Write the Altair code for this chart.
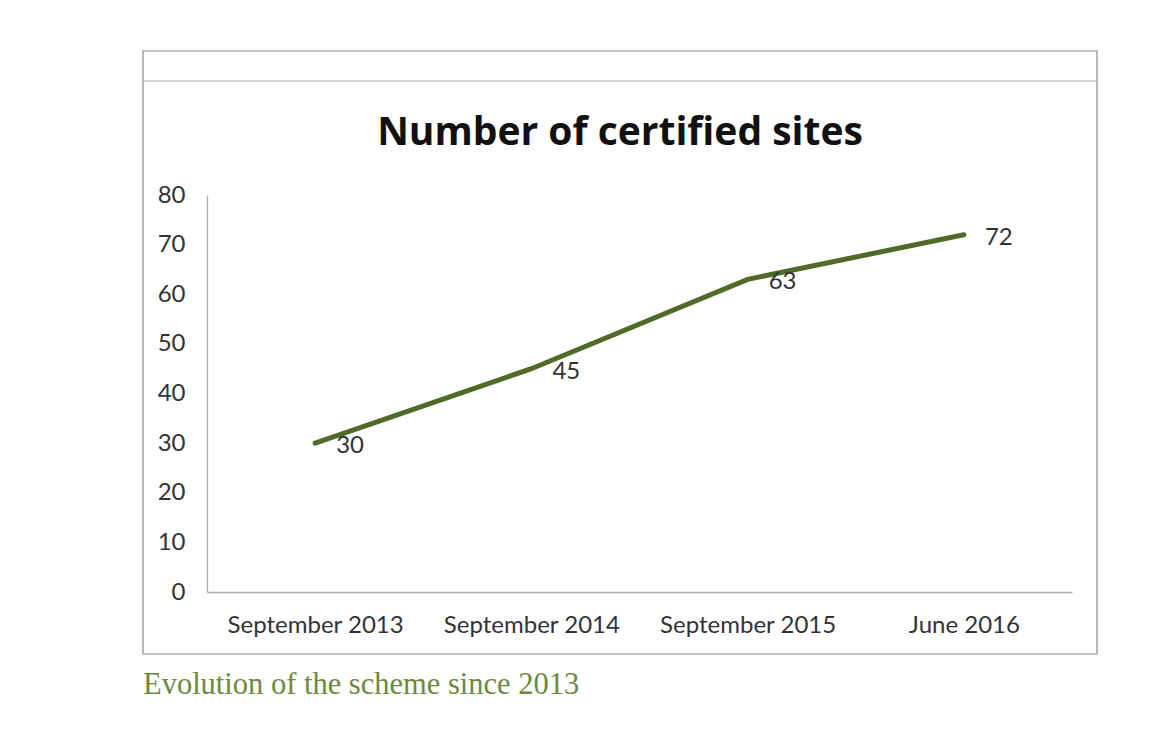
import altair as alt
import pandas as pd

periods = ["September 2013", "September 2014", "September 2015", "June 2016"]
sites = [30, 45, 63, 72]
y_ticks = [0, 10, 20, 30, 40, 50, 60, 70, 80]
title_text = "Number of certified sites"
caption_text = "Evolution of the scheme since 2013"

df = pd.DataFrame({"period": periods, "sites": sites})

FONT = "Lato"
LINE_COLOR = "#4e6b27"

x_enc = alt.X("period:N", sort=periods,
              scale=alt.Scale(type="point", padding=0.5),
              axis=alt.Axis(title=None, labelAngle=0, labelFont=FONT, labelFontSize=24,
                            labelColor="#333333", labelPadding=21, ticks=False,
                            domainColor="#b0b0b0", domainWidth=1.3, grid=False))
y_enc = alt.Y("sites:Q", scale=alt.Scale(domain=[0, 80], nice=False),
              axis=alt.Axis(title=None, values=y_ticks, labelFont=FONT, labelFontSize=24,
                            labelColor="#333333", labelPadding=22, ticks=False,
                            domainColor="#b0b0b0", domainWidth=1.3, grid=False))

line = alt.Chart(df).mark_line(color=LINE_COLOR, strokeWidth=5, strokeCap="round").encode(
    x=x_enc, y=y_enc)

labels = alt.Chart(df).mark_text(font=FONT, fontSize=24, color="#333333", dx=35, dy=3,
                                 align="center", baseline="middle").encode(
    x=alt.X("period:N", sort=periods), y="sites:Q", text="sites:Q")

one = alt.Data(values=[{"t": title_text}])
title = alt.Chart(one).mark_text(font="Open Sans", fontSize=39, fontWeight="bold", color="#111111",
                                 align="center", baseline="middle").encode(
    x=alt.value(413), y=alt.value(-62), text="t:N")

cap = alt.Data(values=[{"t": caption_text}])
caption = alt.Chart(cap).mark_text(font="Liberation Serif", fontSize=30.5, color="#6b8a3c",
                                   align="left", baseline="middle").encode(
    x=alt.value(-64), y=alt.value(490), text="t:N")

frame = alt.Chart(alt.Data(values=[{"a": 1}])).mark_rect(
    fillOpacity=0, stroke="#8c8c8c", strokeWidth=1.2).encode(
    x=alt.value(-64), x2=alt.value(890), y=alt.value(-144), y2=alt.value(459))

header_line = alt.Chart(alt.Data(values=[{"a": 1}])).mark_rule(
    color="#a8a8a8", strokeWidth=1.2).encode(
    x=alt.value(-64), x2=alt.value(890), y=alt.value(-114))

chart = alt.layer(frame, header_line, title, line, labels, caption).properties(
    width=865, height=397,
    autosize=alt.AutoSizeParams(type="none"),
    padding={"left": 207, "top": 195, "right": 104, "bottom": 157},
    background="white",
).configure_view(stroke=None)

chart.save("out.html", embed_options={"renderer": "svg", "actions": False})
